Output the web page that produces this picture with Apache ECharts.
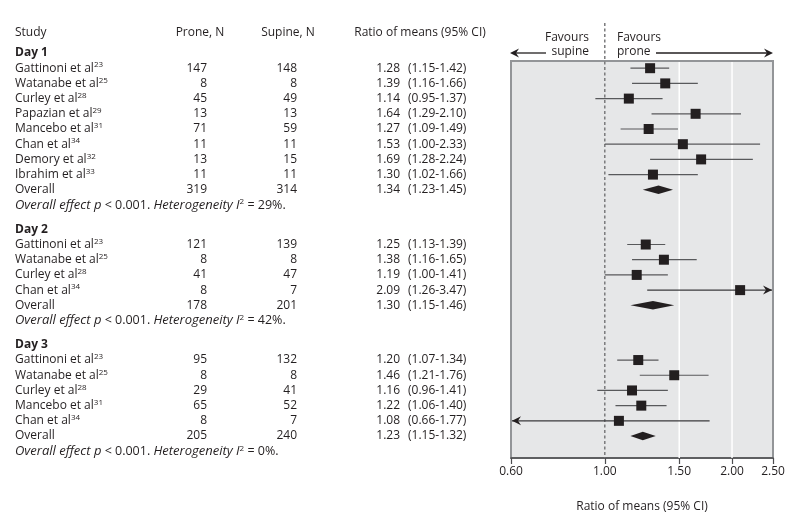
<!DOCTYPE html>
<html><head><meta charset="utf-8">
<script src="https://cdn.jsdelivr.net/npm/echarts@6/dist/echarts.min.js"></script>
<style>html,body{margin:0;padding:0;background:#fff}#c{width:800px;height:524px}</style>
</head><body><div id="c"></div>
<script>
// ---------- data ----------
const dayLabels = ['Day 1', 'Day 2', 'Day 3'];

const day1Studies = ['Gattinoni et al', 'Watanabe et al', 'Curley et al', 'Papazian et al', 'Mancebo et al', 'Chan et al', 'Demory et al', 'Ibrahim et al'];
const day1Refs    = ['23', '25', '28', '29', '31', '34', '32', '33'];
const day1Prone   = [147, 8, 45, 13, 71, 11, 13, 11];
const day1Supine  = [148, 8, 49, 13, 59, 11, 15, 11];
const day1Est     = [1.28, 1.39, 1.14, 1.64, 1.27, 1.53, 1.69, 1.30];
const day1Lo      = [1.15, 1.16, 0.95, 1.29, 1.09, 1.00, 1.28, 1.02];
const day1Hi      = [1.42, 1.66, 1.37, 2.10, 1.49, 2.33, 2.24, 1.66];
const day1Arrow   = ['', '', '', '', '', '', '', ''];

const day2Studies = ['Gattinoni et al', 'Watanabe et al', 'Curley et al', 'Chan et al'];
const day2Refs    = ['23', '25', '28', '34'];
const day2Prone   = [121, 8, 41, 8];
const day2Supine  = [139, 8, 47, 7];
const day2Est     = [1.25, 1.38, 1.19, 2.09];
const day2Lo      = [1.13, 1.16, 1.00, 1.26];
const day2Hi      = [1.39, 1.65, 1.41, 3.47];
const day2Arrow   = ['', '', '', 'right'];

const day3Studies = ['Gattinoni et al', 'Watanabe et al', 'Curley et al', 'Mancebo et al', 'Chan et al'];
const day3Refs    = ['23', '25', '28', '31', '34'];
const day3Prone   = [95, 8, 29, 65, 8];
const day3Supine  = [132, 8, 41, 52, 7];
const day3Est     = [1.20, 1.46, 1.16, 1.22, 1.08];
const day3Lo      = [1.07, 1.21, 0.96, 1.06, 0.66];
const day3Hi      = [1.34, 1.76, 1.41, 1.40, 1.77];
const day3Arrow   = ['', '', '', '', 'left'];

const overallProne  = [319, 178, 205];
const overallSupine = [314, 201, 240];
const overallEst    = [1.34, 1.30, 1.23];
const overallLo     = [1.23, 1.15, 1.15];
const overallHi     = [1.45, 1.46, 1.32];
const overallP      = ['< 0.001', '< 0.001', '< 0.001'];
const overallI2     = [29, 42, 0];

const headerLabels = ['Study', 'Prone, N', 'Supine, N', 'Ratio of means (95% CI)'];
const tickValues = [0.6, 1, 1.5, 2, 2.5];
const gridValues = [1.5, 2.0];
const refValue = 1;
const axisTitle = 'Ratio of means (95% CI)';
const favourLeft = ['Favours', 'supine'];
const favourRight = ['Favours', 'prone'];

// ---------- layout constants ----------
const FONT = 'Open Sans';
const TXT = '#231f20';
const ROW_PX = 15.2;
const GRID_TOP = 61, GRID_BOTTOM = 66;
const PLOT_H = 524 - GRID_TOP - GRID_BOTTOM;
const Y_MIN = 8 / ROW_PX;            // row 0 sits 8px above the plot box
const Y_MAX = Y_MIN + PLOT_H / ROW_PX;
const GROUP_GAP = 0.6;
const COL_STUDY = 15, COL_PRONE = 207, COL_SUPINE = 297, COL_EST = 400, COL_CI = 408;

const days = [
  {studies: day1Studies, refs: day1Refs, prone: day1Prone, supine: day1Supine, est: day1Est, lo: day1Lo, hi: day1Hi, arrow: day1Arrow},
  {studies: day2Studies, refs: day2Refs, prone: day2Prone, supine: day2Supine, est: day2Est, lo: day2Lo, hi: day2Hi, arrow: day2Arrow},
  {studies: day3Studies, refs: day3Refs, prone: day3Prone, supine: day3Supine, est: day3Est, lo: day3Lo, hi: day3Hi, arrow: day3Arrow}
];

const f2 = v => v.toFixed(2);
const tableData = [];
const whiskerData = [];
const squareData = [];
const diamondData = [];

function txt(x, r, formatter, align) {
  tableData.push({value: [x, r], label: {formatter: formatter, align: align}});
}

// header row
const headerRow = (33 - 53) / ROW_PX;
txt(COL_STUDY, headerRow, '{n|' + headerLabels[0] + '}', 'left');
txt(200, headerRow, '{n|' + headerLabels[1] + '}', 'center');
txt(288, headerRow, '{n|' + headerLabels[2] + '}', 'center');
txt(420, headerRow, '{n|' + headerLabels[3] + '}', 'center');

let r = 0;
days.forEach((d, i) => {
  if (i > 0) r += GROUP_GAP;
  txt(COL_STUDY, r, '{b|' + dayLabels[i] + '}', 'left');
  r++;
  d.studies.forEach((s, j) => {
    txt(COL_STUDY, r, '{n|' + s + '}{s|' + d.refs[j] + '}', 'left');
    txt(COL_PRONE, r, '{n|' + d.prone[j] + '}', 'right');
    txt(COL_SUPINE, r, '{n|' + d.supine[j] + '}', 'right');
    txt(COL_EST, r, '{n|' + f2(d.est[j]) + '}', 'right');
    txt(COL_CI, r, '{n|(' + f2(d.lo[j]) + '-' + f2(d.hi[j]) + ')}', 'left');
    const arrowCode = d.arrow[j] === 'left' ? 1 : (d.arrow[j] === 'right' ? 2 : 0);
    whiskerData.push([d.lo[j], r, d.hi[j], arrowCode]);
    squareData.push([d.est[j], r]);
    r++;
  });
  txt(COL_STUDY, r, '{n|Overall}', 'left');
  txt(COL_PRONE, r, '{n|' + overallProne[i] + '}', 'right');
  txt(COL_SUPINE, r, '{n|' + overallSupine[i] + '}', 'right');
  txt(COL_EST, r, '{n|' + f2(overallEst[i]) + '}', 'right');
  txt(COL_CI, r, '{n|(' + f2(overallLo[i]) + '-' + f2(overallHi[i]) + ')}', 'left');
  diamondData.push([overallLo[i], r, overallHi[i], overallEst[i]]);
  r++;
  txt(COL_STUDY, r, '{i|Overall effect p}{m| ' + overallP[i] + '. }{i|Heterogeneity I}{s|2}{m| = ' + overallI2[i] + '%.}', 'left');
  r++;
});

// ---------- chart ----------
const chart = echarts.init(document.getElementById('c'), null, {renderer: 'canvas'});

const rich = {
  n: {fontFamily: FONT, fontSize: 12, color: TXT, lineHeight: 14},
  m: {fontFamily: FONT, fontSize: 12.5, color: TXT, lineHeight: 14},
  b: {fontFamily: FONT, fontSize: 12, color: TXT, fontWeight: 'bold', lineHeight: 14},
  i: {fontFamily: FONT, fontSize: 13, color: TXT, fontStyle: 'italic', lineHeight: 14},
  s: {fontFamily: FONT, fontSize: 8, color: TXT, lineHeight: 9, verticalAlign: 'top'}
};

function arrowHead(xTip, y, dir) {
  const L = 9, W = 4.5, N = 6;
  return {
    type: 'polygon',
    shape: {points: [[xTip, y], [xTip - dir * L, y - W], [xTip - dir * N, y], [xTip - dir * L, y + W]]},
    style: {fill: TXT}
  };
}

const option = {
  animation: false,
  backgroundColor: '#ffffff',
  grid: [
    {left: 511, right: 27, top: GRID_TOP, bottom: GRID_BOTTOM, show: true, backgroundColor: '#e6e7e8', borderColor: '#939598', borderWidth: 2, containLabel: false},
    {left: 0, right: 295, top: GRID_TOP, bottom: GRID_BOTTOM, show: false, containLabel: false}
  ],
  xAxis: [
    {
      type: 'log', logBase: 10, min: 0.6, max: 2.5, gridIndex: 0,
      axisLine: {show: true, lineStyle: {color: '#4d4d4f', width: 1.5}},
      axisTick: {show: true, customValues: tickValues, length: 6, lineStyle: {color: '#4d4d4f', width: 1.2}},
      axisLabel: {show: true, customValues: tickValues, formatter: v => Number(v).toFixed(2), color: TXT, fontFamily: FONT, fontSize: 12, margin: 8},
      splitLine: {show: false},
      minorTick: {show: false},
      name: axisTitle, nameLocation: 'middle', nameGap: 43,
      nameTextStyle: {color: TXT, fontFamily: FONT, fontSize: 12}
    },
    {type: 'value', min: 0, max: 505, gridIndex: 1, show: false}
  ],
  yAxis: [
    {type: 'value', inverse: true, min: Y_MIN, max: Y_MAX, gridIndex: 0, show: false},
    {type: 'value', inverse: true, min: Y_MIN, max: Y_MAX, gridIndex: 1, show: false}
  ],
  series: [
    {
      type: 'custom', xAxisIndex: 0, yAxisIndex: 0, z: 1, silent: true,
      data: gridValues.map(v => [v, Y_MIN]),
      encode: {x: 0, y: 1},
      renderItem: (params, api) => {
        const cs = params.coordSys;
        const p = api.coord([api.value(0), api.value(1)]);
        return {type: 'line', shape: {x1: p[0], y1: cs.y + 1, x2: p[0], y2: cs.y + cs.height}, style: {stroke: '#ffffff', lineWidth: 1.5}};
      }
    },
    {
      type: 'custom', xAxisIndex: 0, yAxisIndex: 0, z: 2, silent: true,
      data: [[refValue, Y_MIN]],
      encode: {x: 0, y: 1},
      renderItem: (params, api) => {
        const cs = params.coordSys;
        const p = api.coord([api.value(0), api.value(1)]);
        return {type: 'line', shape: {x1: p[0], y1: 23, x2: p[0], y2: cs.y + cs.height}, style: {stroke: '#7a7a7c', lineWidth: 1.5, lineDash: [3, 2.5]}};
      }
    },
    {
      type: 'custom', xAxisIndex: 0, yAxisIndex: 0, z: 3, silent: true,
      data: whiskerData,
      encode: {x: [0, 2], y: 1},
      renderItem: (params, api) => {
        const cs = params.coordSys;
        const pl = api.coord([api.value(0), api.value(1)]);
        const ph = api.coord([api.value(2), api.value(1)]);
        const code = api.value(3);
        const y = pl[1];
        let x1 = Math.max(cs.x, pl[0]);
        let x2 = Math.min(cs.x + cs.width, ph[0]);
        const kids = [];
        const leftArrow = code === 1 || pl[0] < cs.x;
        const rightArrow = code === 2 || ph[0] > cs.x + cs.width;
        if (leftArrow) x1 = cs.x + 1;
        if (rightArrow) x2 = cs.x + cs.width - 1;
        kids.push({type: 'line', shape: {x1: x1, y1: y, x2: x2, y2: y}, style: {stroke: leftArrow || rightArrow ? '#3a3a3c' : '#58595b', lineWidth: 1.2}});
        if (leftArrow) kids.push(arrowHead(x1, y, -1));
        if (rightArrow) kids.push(arrowHead(x2, y, 1));
        return {type: 'group', children: kids};
      }
    },
    {
      type: 'custom', xAxisIndex: 0, yAxisIndex: 0, z: 4, silent: true,
      data: diamondData,
      encode: {x: [0, 2, 3], y: 1},
      renderItem: (params, api) => {
        const pl = api.coord([api.value(0), api.value(1)]);
        const ph = api.coord([api.value(2), api.value(1)]);
        const pe = api.coord([api.value(3), api.value(1)]);
        const y = pl[1];
        return {type: 'polygon', shape: {points: [[pl[0], y], [pe[0], y - 4.2], [ph[0], y], [pe[0], y + 4.2]]}, style: {fill: TXT}};
      }
    },
    {
      type: 'scatter', xAxisIndex: 0, yAxisIndex: 0, z: 5, silent: true,
      symbol: 'rect', symbolSize: 10,
      itemStyle: {color: TXT, opacity: 1},
      data: squareData
    },
    {
      type: 'scatter', xAxisIndex: 1, yAxisIndex: 1, z: 6, silent: true, clip: false,
      symbolSize: 1,
      itemStyle: {color: 'rgba(255,255,255,0)', opacity: 1},
      label: {show: true, position: 'inside', verticalAlign: 'middle', rich: rich, color: TXT},
      data: tableData
    }
  ],
  graphic: [
    {type: 'text', x: 589, y: 38, style: {text: favourLeft[0], font: '12px "' + FONT + '"', fill: TXT, align: 'right', verticalAlign: 'middle'}},
    {type: 'text', x: 589, y: 52, style: {text: favourLeft[1], font: '12px "' + FONT + '"', fill: TXT, align: 'right', verticalAlign: 'middle'}},
    {type: 'text', x: 617, y: 38, style: {text: favourRight[0], font: '12px "' + FONT + '"', fill: TXT, align: 'left', verticalAlign: 'middle'}},
    {type: 'text', x: 617, y: 52, style: {text: favourRight[1], font: '12px "' + FONT + '"', fill: TXT, align: 'left', verticalAlign: 'middle'}},
    {type: 'line', shape: {x1: 514, y1: 53, x2: 546, y2: 53}, style: {stroke: TXT, lineWidth: 1.3}},
    arrowHead(510, 53, -1),
    {type: 'line', shape: {x1: 656, y1: 53, x2: 769, y2: 53}, style: {stroke: TXT, lineWidth: 1.3}},
    arrowHead(773, 53, 1)
  ]
};
chart.setOption(option);
</script>
</body></html>
